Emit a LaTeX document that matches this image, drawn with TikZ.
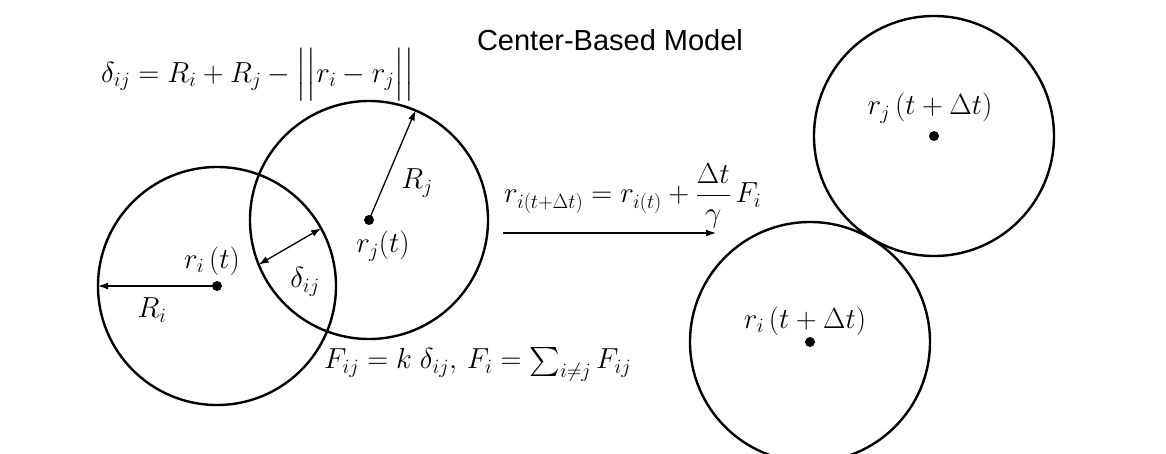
\RequirePackage{fix-cm}
\documentclass[tikz,border=0pt]{standalone}
\usepackage{amsmath,amssymb}
\usepackage{fontspec}
\newfontfamily\titlefont{Liberation Sans}
\usetikzlibrary{arrows.meta,positioning}

\begin{document}
\begin{tikzpicture}[x=1pt, y=-1pt,
    ball/.style={draw, circle, line width=2.4pt, minimum size=238pt, inner sep=0pt, outer sep=0pt},
    bigball/.style={ball, minimum size=240pt},
    dot/.style={fill, circle, inner sep=0pt, minimum size=10pt},
    arr/.style={-{Latex[length=10pt,width=7pt]}, line width=1.3pt},
    darr/.style={{Latex[length=10pt,width=7pt]}-{Latex[length=10pt,width=7pt]}, line width=1.3pt},
    mth/.style={font=\fontsize{29}{33}\selectfont, inner sep=1pt},
    ttl/.style={font=\titlefont\fontsize{29}{34}\selectfont, inner sep=0pt}
]
\useasboundingbox (0,0) rectangle (1166,453);

% title
\node[ttl] (title) at (610,40) {Center-Based Model};

% overlapping pair at time t
\node[ball] (ci) at (217,286) {};
\node[ball] (cj) at (369,220) {};
\node[dot] (pi) at (ci.center) {};
\node[dot] (pj) at (cj.center) {};

\draw[arr] (pi.center) -- (ci.west);
\draw[arr] (pj.center) -- (cj.67);
\draw[darr] (cj.202) -- (ci.29);

\node[mth] (lri) at (212,261) {$r_i\,(t)$};
\node[mth] (lRi) at (152,310) {$R_i$};
\node[mth] (lrj) at (383,246) {$r_j(t)$};
\node[mth] (lRj) at (417,183) {$R_j$};
\node[mth] (ldij) at (305,282) {$\delta_{ij}$};

\node[mth, anchor=west] (fdelta) at (100,75) {$\delta_{ij} = R_i + R_j - \Big|\Big|r_i - r_j\Big|\Big|$};
\node[mth, anchor=west] (fforce) at (323,364) {$F_{ij} = k\;\delta_{ij},\, F_i = \textstyle\sum_{i\neq j} F_{ij}$};

% update step
\coordinate (mvs) at (503,233);
\coordinate (mve) at (716,233);
\draw[arr] (mvs) -- (mve);
\node[mth, anchor=west] (fmove) at (503,196) {$r_{i(t+\Delta t)} = r_{i(t)} + \dfrac{\Delta t}{\gamma}\,F_i$};

% pair at time t + dt
\node[bigball] (cj2) at (934,136) {};
\node[bigball] (ci2) at (810,342) {};
\node[dot] (pj2) at (cj2.center) {};
\node[dot] (pi2) at (ci2.center) {};
\node[mth] (lrj2) at (930,108) {$r_j\,(t+\Delta t)$};
\node[mth] (lri2) at (805,321) {$r_i\,(t+\Delta t)$};
\end{tikzpicture}
\end{document}
